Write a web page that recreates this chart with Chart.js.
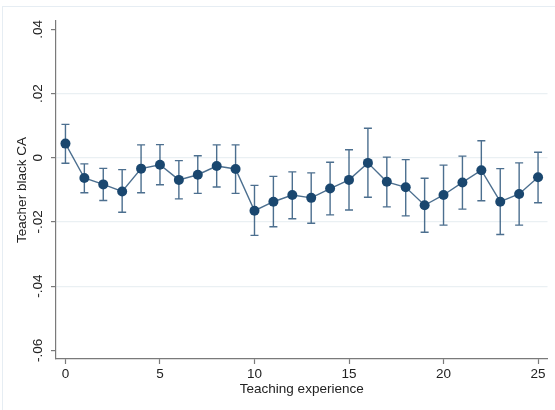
<!DOCTYPE html>
<html>
<head>
<meta charset="utf-8">
<script src="https://cdn.jsdelivr.net/npm/chart.js@4/dist/chart.umd.min.js"></script>
<style>
  html, body { margin: 0; padding: 0; background: #fff; }
  #wrap { position: relative; width: 555px; height: 410px; }
</style>
</head>
<body>
<div id="wrap"><canvas id="caChart"></canvas></div>
<script>
// years of teaching experience and estimated coefficients with 95% CI
const experience = [0, 1, 2, 3, 4, 5, 6, 7, 8, 9, 10, 11, 12, 13, 14, 15, 16, 17, 18, 19, 20, 21, 22, 23, 24, 25];
const coef = [0.0044, -0.0063, -0.0083, -0.0105, -0.0034, -0.0022, -0.0069, -0.0053, -0.0026, -0.0035,
              -0.0165, -0.0137, -0.0116, -0.0125, -0.0096, -0.0069, -0.0016, -0.0075, -0.0092, -0.0148,
              -0.0116, -0.0077, -0.0039, -0.0137, -0.0113, -0.0061];
const upper = [0.0104, -0.0019, -0.0033, -0.0037, 0.0040, 0.0041, -0.0009, 0.0006, 0.0040, 0.0040,
               -0.0086, -0.0058, -0.0044, -0.0047, -0.0014, 0.0025, 0.0092, 0.0002, -0.0006, -0.0064,
               -0.0023, 0.0005, 0.0053, -0.0034, -0.0016, 0.0017];
const lower = [-0.0017, -0.0109, -0.0133, -0.0170, -0.0109, -0.0084, -0.0128, -0.0111, -0.0091, -0.0111,
               -0.0242, -0.0215, -0.0190, -0.0204, -0.0178, -0.0163, -0.0123, -0.0153, -0.0181, -0.0232,
               -0.0210, -0.0160, -0.0134, -0.0239, -0.0210, -0.0140];

const xTicks = [0, 5, 10, 15, 20, 25];
const yTicks = [-0.06, -0.04, -0.02, 0, 0.02, 0.04];
const yTickLabels = ['-.06', '-.04', '-.02', '0', '.02', '.04'];

const navy = '#1a476f';
const capColor = 'rgba(26, 71, 111, 0.78)';
const font = { family: '"Liberation Sans", Arial, sans-serif', size: 13.5 };

// light outer frame around the graph region
const frame = {
    id: 'frame',
    beforeDraw(chart) {
        const ctx = chart.ctx;
        ctx.save();
        ctx.strokeStyle = '#e6edf3';
        ctx.lineWidth = 1;
        ctx.strokeRect(2.5, 6.5, 700, 700);
        ctx.restore();
    }
};

// capped spikes for the confidence intervals
const errorBars = {
    id: 'errorBars',
    beforeDatasetsDraw(chart) {
        const { ctx, scales: { x, y } } = chart;
        ctx.save();
        ctx.strokeStyle = capColor;
        ctx.lineWidth = 1.4;
        experience.forEach((e, i) => {
            const px = x.getPixelForValue(e);
            const top = y.getPixelForValue(upper[i]);
            const bot = y.getPixelForValue(lower[i]);
            ctx.beginPath();
            ctx.moveTo(px, top);
            ctx.lineTo(px, bot);
            ctx.moveTo(px - 4, top);
            ctx.lineTo(px + 4, top);
            ctx.moveTo(px - 4, bot);
            ctx.lineTo(px + 4, bot);
            ctx.stroke();
        });
        ctx.restore();
    }
};

new Chart(document.getElementById('caChart'), {
    type: 'line',
    data: {
        datasets: [{
            data: experience.map((e, i) => ({ x: e, y: coef[i] })),
            borderColor: capColor,
            borderWidth: 1.4,
            backgroundColor: navy,
            pointBackgroundColor: navy,
            pointBorderColor: navy,
            pointRadius: 5,
            pointBorderWidth: 0,
            tension: 0,
            fill: false
        }]
    },
    options: {
        responsive: true,
        maintainAspectRatio: false,
        animation: false,
        layout: { padding: { top: 21, right: 7.5, left: 0, bottom: 0 } },
        plugins: { legend: { display: false }, tooltip: { enabled: false } },
        scales: {
            x: {
                type: 'linear',
                min: -0.5,
                max: 25.5,
                afterBuildTicks: s => { s.ticks = xTicks.map(v => ({ value: v })); },
                afterFit: s => { s.height = 51; },
                grid: { color: 'rgba(0,0,0,0)', tickColor: '#7a7a7a', tickLength: 5, tickWidth: 1.2 },
                border: { color: '#7a7a7a', width: 1.2 },
                ticks: { color: '#222', font: font, padding: 2, maxRotation: 0 },
                title: {
                    display: true,
                    text: 'Teaching experience',
                    color: '#222',
                    font: font,
                    padding: { top: 0, bottom: 13 }
                }
            },
            y: {
                type: 'linear',
                min: -0.0627,
                max: 0.0426,
                afterBuildTicks: s => { s.ticks = yTicks.map(v => ({ value: v })); },
                afterFit: s => { s.width = 56; },
                grid: {
                    color: ctx => (ctx.index === 0 || ctx.index === yTicks.length - 1) ? 'rgba(0,0,0,0)' : '#eaf0f3',
                    tickColor: '#7a7a7a',
                    tickLength: 5,
                    tickWidth: 1.2,
                    lineWidth: 1.2
                },
                border: { color: '#7a7a7a', width: 1.2 },
                ticks: {
                    color: '#222',
                    font: font,
                    padding: 1,
                    minRotation: 90,
                    maxRotation: 90,
                    crossAlign: 'center',
                    callback: (v, i) => yTickLabels[i]
                },
                title: {
                    display: true,
                    text: 'Teacher black CA',
                    color: '#222',
                    font: font,
                    padding: { top: 14, bottom: 0 }
                }
            }
        }
    },
    plugins: [frame, errorBars]
});
</script>
</body>
</html>
